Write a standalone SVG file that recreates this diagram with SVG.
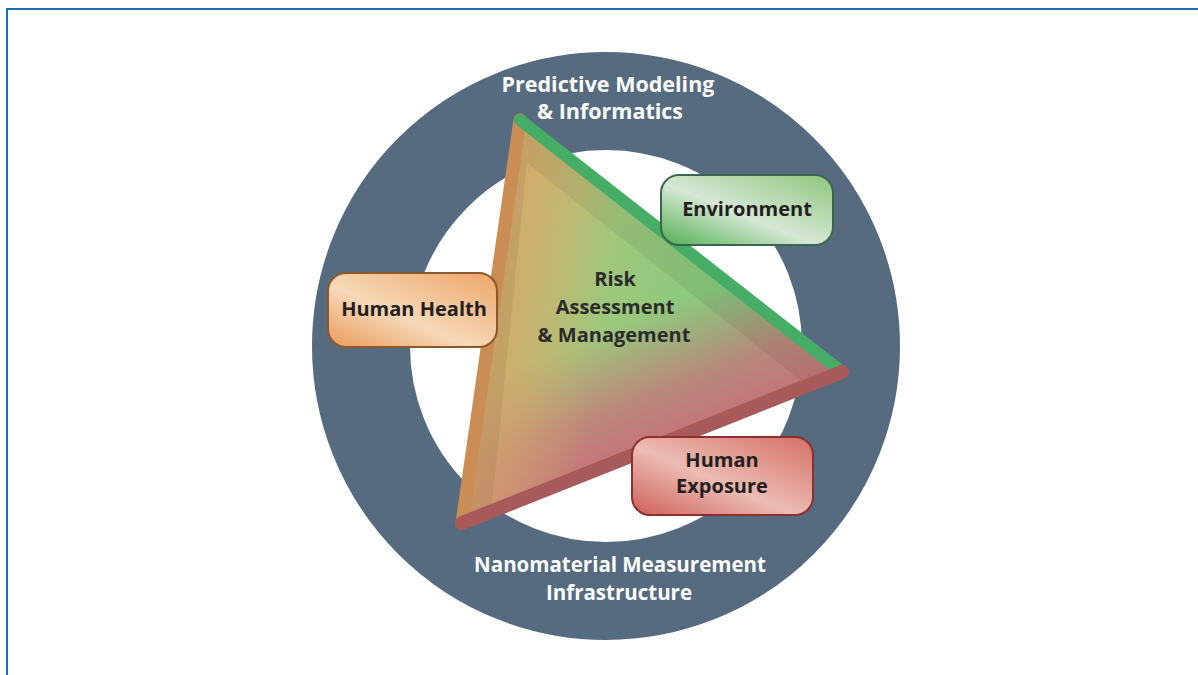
<svg xmlns="http://www.w3.org/2000/svg" width="1198" height="675" viewBox="0 0 1198 675">
<defs>
<style>
.lbl{font-family:"Open Sans","Liberation Sans",sans-serif;font-weight:700;text-anchor:middle}
.ring{font-size:21.5px;fill:#ffffff}
.ring2{font-size:20.5px;fill:#ffffff}
.box{font-size:20px;fill:#231f20}
.ctr{font-size:20px;fill:#2b2b2b}
</style>
<linearGradient id="triBase" gradientUnits="userSpaceOnUse" x1="500" y1="200" x2="740" y2="260">
<stop offset="0" stop-color="#cdb873"/>
<stop offset="0.45" stop-color="#a2c77c"/>
<stop offset="1" stop-color="#84ca7f"/>
</linearGradient>
<linearGradient id="triPink" gradientUnits="userSpaceOnUse" x1="652" y1="447" x2="606" y2="330">
<stop offset="0" stop-color="#c7707a" stop-opacity="0.95"/>
<stop offset="0.4" stop-color="#c7747a" stop-opacity="0.75"/>
<stop offset="1" stop-color="#c9787a" stop-opacity="0"/>
</linearGradient>
<linearGradient id="triOrange" gradientUnits="userSpaceOnUse" x1="480" y1="330" x2="600" y2="345">
<stop offset="0" stop-color="#d7a46a" stop-opacity="0.9"/>
<stop offset="0.5" stop-color="#d4aa6c" stop-opacity="0.45"/>
<stop offset="1" stop-color="#d4aa6c" stop-opacity="0"/>
</linearGradient>
<linearGradient id="gEnv" x1="0" y1="1" x2="1" y2="0">
<stop offset="0" stop-color="#4fae4f"/>
<stop offset="0.45" stop-color="#d6e7d6"/>
<stop offset="1" stop-color="#8fc57c"/>
</linearGradient>
<linearGradient id="gHealth" x1="0" y1="1" x2="1" y2="0">
<stop offset="0" stop-color="#e89b5a"/>
<stop offset="0.42" stop-color="#f7d8b8"/>
<stop offset="1" stop-color="#eba66a"/>
</linearGradient>
<linearGradient id="gExp" x1="0" y1="1" x2="1" y2="0">
<stop offset="0" stop-color="#cc5f5a"/>
<stop offset="0.45" stop-color="#ecbcb3"/>
<stop offset="1" stop-color="#d56f66"/>
</linearGradient>
</defs>
<rect x="0" y="0" width="1198" height="675" fill="#ffffff"/>
<g id="frame" fill="none" stroke="#1a6fb5" stroke-width="2">
<path d="M7 675 V9 H1198"/>
</g>
<g id="ring">
<circle cx="606" cy="346" r="245" fill="none" stroke="#566b80" stroke-width="98"/>
<text class="lbl ring" x="608" y="92">Predictive Modeling</text>
<text class="lbl ring" x="610" y="119">&amp; Informatics</text>
<text class="lbl ring2" x="620" y="572">Nanomaterial Measurement</text>
<text class="lbl ring2" x="619" y="600">Infrastructure</text>
</g>
<g id="triangle">
<polygon points="520,120 842,372 462,523" fill="url(#triBase)"/>
<polygon points="520,120 842,372 462,523" fill="url(#triPink)"/>
<polygon points="520,120 842,372 462,523" fill="url(#triOrange)"/>
<path d="M520,120 L842,372 L462,523 Z M527,163 L800,380 L492,505 Z" fill="#000000" fill-opacity="0.06" fill-rule="evenodd"/>
<line x1="520" y1="120" x2="462" y2="523" stroke="#c98d55" stroke-width="13" stroke-linecap="round"/>
<line x1="520" y1="120" x2="842" y2="372" stroke="#45ad66" stroke-width="12" stroke-linecap="round"/>
<line x1="842" y1="372" x2="462" y2="523" stroke="#a85a5a" stroke-width="14" stroke-linecap="round"/>
<text class="lbl ctr" x="615" y="286">Risk</text>
<text class="lbl ctr" x="615" y="314">Assessment</text>
<text class="lbl ctr" x="614" y="342">&amp; Management</text>
</g>
<g id="environment">
<rect x="661" y="175" width="172" height="70" rx="18" fill="url(#gEnv)" stroke="#3d6450" stroke-width="2"/>
<text class="lbl box" x="747" y="216">Environment</text>
</g>
<g id="human-health">
<rect x="328" y="273" width="169" height="74" rx="18" fill="url(#gHealth)" stroke="#8a5a2a" stroke-width="2"/>
<text class="lbl box" x="414" y="316">Human Health</text>
</g>
<g id="human-exposure">
<rect x="632" y="437" width="181" height="78" rx="18" fill="url(#gExp)" stroke="#8b2f2f" stroke-width="2"/>
<text class="lbl box" x="722" y="467" font-size="19.5">Human</text>
<text class="lbl box" x="722" y="493" font-size="19.5">Exposure</text>
</g>
</svg>
